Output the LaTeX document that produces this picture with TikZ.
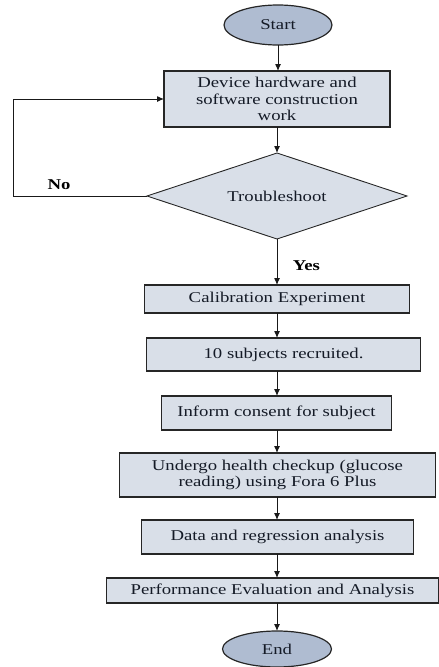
\documentclass[tikz,border=0pt]{standalone}
\usepackage{fontspec}
\setmainfont[FakeStretch=1.25]{Liberation Serif}
\usepackage{tikz}
\usetikzlibrary{positioning}
\usetikzlibrary{shapes.geometric, arrows, arrows.meta}
\definecolor{ovalfill}{HTML}{AFBCD1}
\definecolor{boxfill}{HTML}{D9DFE8}
\definecolor{inkcol}{HTML}{141A26}
\tikzstyle{arrow} = [line width=1pt,->,>={Latex[length=7pt,width=6pt]},draw=black!90]
\tikzstyle{startstop} = [ellipse,draw=black!85,line width=1.2pt,fill=ovalfill,inner sep=0pt,outer sep=0pt,text=inkcol]
\tikzstyle{process} = [rectangle,draw=black!85,line width=1.2pt,fill=boxfill,inner sep=0pt,outer sep=0pt,text=inkcol,align=center]
\tikzstyle{decision} = [diamond,aspect=3,draw=black!85,line width=0.9pt,fill=boxfill,inner sep=0pt,outer sep=0pt,text=inkcol]

\begin{document}
\begin{tikzpicture}[x=1pt,y=-1pt,font=\fontsize{15}{16.7}\selectfont]
	\useasboundingbox (0,0) rectangle (439,667);

	%Nodes
	\node [startstop,minimum width=108pt,minimum height=40pt] (Start) at (278,25) {Start};
	\node [process,minimum width=226pt,minimum height=56pt,below=26pt of Start,xshift=-1pt] (Hw) {Device hardware and\\software construction\\work};
	\node [decision,minimum width=260pt,minimum height=86pt,below=26pt of Hw] (Trouble) {Troubleshoot};
	\node [process,minimum width=265pt,minimum height=28pt,below=46pt of Trouble] (Cal) {Calibration Experiment};
	\node [process,minimum width=274pt,minimum height=33pt,below=25pt of Cal,xshift=6.5pt] (Subj) {10 subjects recruited.};
	\node [process,minimum width=230pt,minimum height=34pt,below=25pt of Subj,xshift=-7pt] (Consent) {Inform consent for subject};
	\node [process,minimum width=316pt,minimum height=44pt,below=23pt of Consent,xshift=1pt] (Check) {Undergo health checkup (glucose\\reading) using Fora 6 Plus};
	\node [process,minimum width=272pt,minimum height=34pt,below=23pt of Check] (Data) {Data and regression analysis};
	\node [process,minimum width=332pt,minimum height=25pt,below=24pt of Data,xshift=-5pt] (Perf) {Performance Evaluation and Analysis};
	\node [startstop,minimum width=109pt,minimum height=36pt,below=28pt of Perf,xshift=4.5pt] (End) {End};
	\coordinate (loop) at (13,196);
	\node [anchor=south,font=\fontsize{15}{16.7}\selectfont\bfseries] (No) at (59,193) {No};

	%Lines
	\draw[arrow] (Start.south) -- (Start.south |- Hw.north);
	\draw[arrow] (Hw.south) -- (Trouble.north);
	\draw[arrow] (Trouble.south) -- node[anchor=west,xshift=12pt,yshift=-4pt,font=\fontsize{15}{16.7}\selectfont\bfseries]{Yes} (Trouble.south |- Cal.north);
	\draw[arrow] (Trouble.west) -- (Trouble.west -| loop) |- (Hw.west);
	\draw[arrow] (Cal.south -| Trouble.south) -- (Trouble.south |- Subj.north);
	\draw[arrow] (Trouble.south |- Subj.south) -- (Trouble.south |- Consent.north);
	\draw[arrow] (Trouble.south |- Consent.south) -- (Trouble.south |- Check.north);
	\draw[arrow] (Trouble.south |- Check.south) -- (Trouble.south |- Data.north);
	\draw[arrow] (Trouble.south |- Data.south) -- (Trouble.south |- Perf.north);
	\draw[arrow] (Trouble.south |- Perf.south) -- (Trouble.south |- End.north);

\end{tikzpicture}
\end{document}
